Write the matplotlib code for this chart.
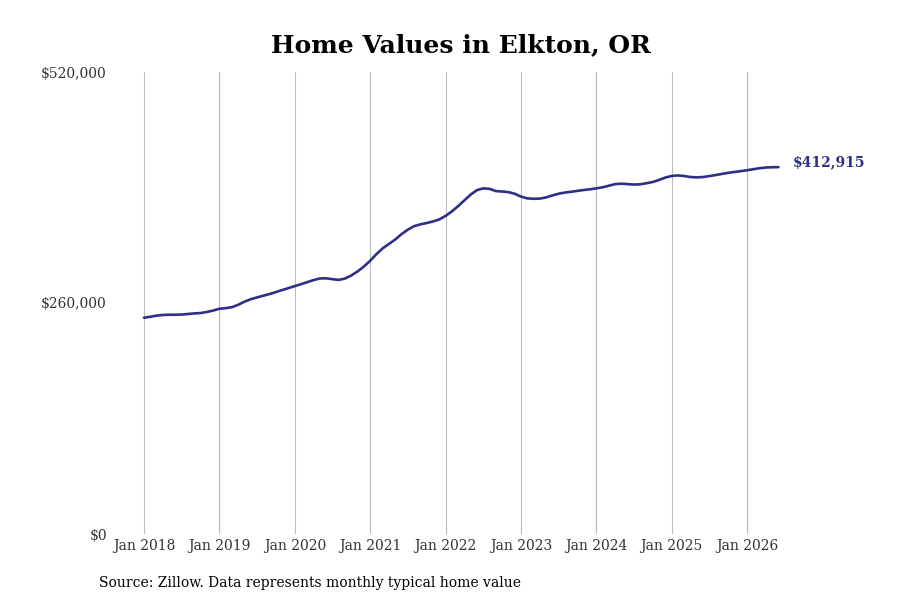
import matplotlib.pyplot as plt

# monthly typical home value, Jan 2018 .. Jun 2026
values = [
    243400, 244500, 245800, 246500, 246800, 246800, 247000, 247600, 248300, 248700, 249900, 251500,
    253500, 254200, 255300, 258000, 261500, 264300, 266300, 268200, 270100, 272300, 274600, 276800,
    279000, 281200, 283500, 285800, 287600, 287800, 286800, 286000, 287500, 291000, 295500, 301000,
    307500, 315000, 321500, 326500, 331500, 337500, 342500, 346500, 348500, 350000, 351800, 354000,
    358000, 363000, 369000, 375500, 382000, 387000, 389000, 388500, 386000, 385500, 384800, 383000,
    379800, 377800, 377300, 377500, 378800, 381000, 383000, 384300, 385200, 386200, 387200, 388000,
    389000, 390200, 392000, 393800, 394300, 393800, 393300, 393600, 394800, 396200, 398500, 401200,
    403000, 403600, 402900, 401800, 401400, 401800, 402800, 404000, 405300, 406500, 407500, 408400,
    409400, 410600, 411700, 412500, 412800, 412915,
]
years = [2018 + i / 12 for i in range(len(values))]
tick_years = list(range(2018, 2027))
tick_labels = [f"Jan {y}" for y in tick_years]
y_ticks = [0, 260000, 520000]
y_labels = ["$0", "$260,000", "$520,000"]
last_label = "$412,915"

line_color = '#2f2f87'
plt.rcParams['font.family'] = ['DejaVu Serif']

fig = plt.figure(figsize=(9, 6), dpi=100)
ax = fig.add_axes([0.125, 0.11, 0.745, 0.77])

ax.plot(years, values, color=line_color, linewidth=1.9, solid_capstyle='round')
ax.set_xlim(2018 - 0.418, 2018 + (783 - 144) / 75.375)
ax.set_ylim(0, 520000)

ax.set_xticks(tick_years)
ax.set_xticklabels(tick_labels)
ax.set_yticks(y_ticks)
ax.set_yticklabels(y_labels)
ax.tick_params(axis='both', length=0, labelsize=10, labelcolor='#333333')
ax.tick_params(axis='y', pad=4)
ax.tick_params(axis='x', pad=3.5)
ax.grid(True, axis='x', color='#bbbbbb', linewidth=0.8)
ax.grid(False, axis='y')
for s in ax.spines.values():
    s.set_visible(False)

ax.annotate(last_label, (years[-1], values[-1]), xytext=(10, 3.5), textcoords='offset points',
            color=line_color, fontsize=10, fontweight='bold', va='center', ha='left',
            annotation_clip=False)

fig.suptitle('Home Values in Elkton, OR', x=0.512, y=0.945, fontsize=18, fontweight='bold')
fig.text(0.11, 0.022, 'Source: Zillow. Data represents monthly typical home value',
         fontsize=10, color='black')

plt.savefig('out.png')
